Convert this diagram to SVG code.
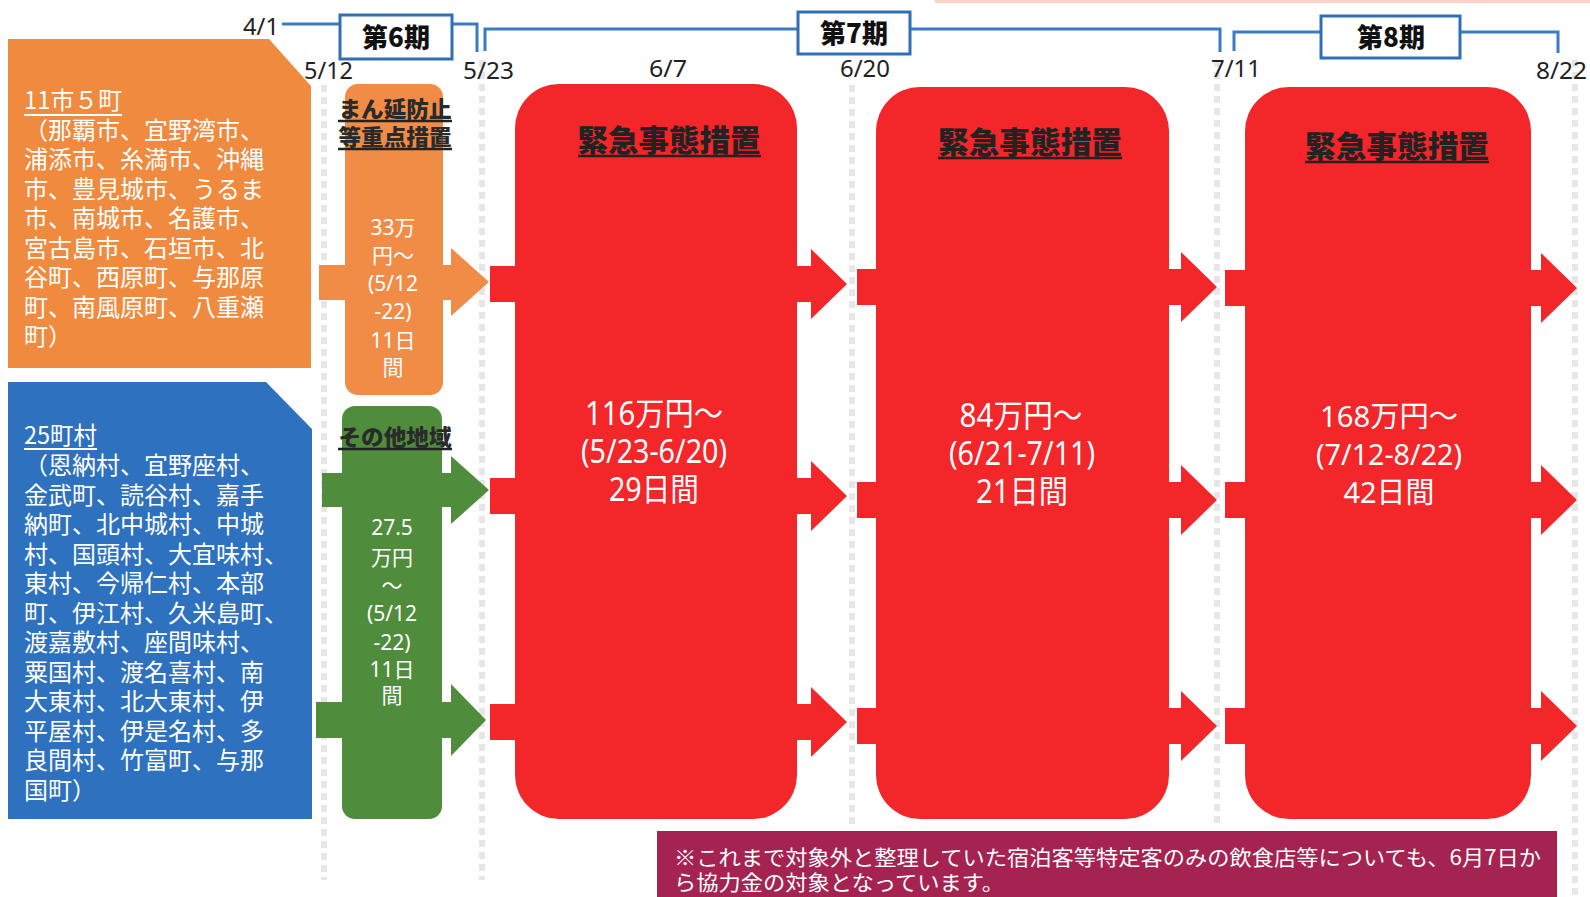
<svg xmlns="http://www.w3.org/2000/svg" width="1590" height="897" viewBox="0 0 1590 897">
<defs>
<style>
.jp{font-family:"Noto Sans CJK JP","Noto Sans",sans-serif}
.num{font-family:"Noto Sans","Noto Sans CJK JP",sans-serif}
.date{font-family:"Noto Sans","Noto Sans CJK JP",sans-serif;font-size:24px;fill:#222}
.ki{font-family:"Noto Sans CJK JP",sans-serif;font-size:26px;font-weight:900;fill:#111;text-anchor:middle}
.kibox{fill:#fff;stroke:#2f6fb5;stroke-width:3}
.tl{fill:none;stroke:#3a7cc4;stroke-width:3}
.wt{fill:#fff}
.left{font-family:"Noto Sans CJK JP",sans-serif;font-size:24px;fill:#fff}
.mtitle{font-family:"Noto Sans CJK JP",sans-serif;font-size:22px;font-weight:900;fill:#2a2a2a;text-anchor:middle}
.rtitle{font-family:"Noto Sans CJK JP",sans-serif;font-size:30px;font-weight:900;fill:#222;text-anchor:middle}
.ul{stroke:#222;stroke-width:2.5}
.wul{stroke:#fff;stroke-width:1.8}
.mid{font-family:"Noto Sans","Noto Sans CJK JP",sans-serif;font-size:21px;fill:#fff;text-anchor:middle}
.big{font-family:"Noto Sans","Noto Sans CJK JP",sans-serif;font-size:32px;fill:#fff;text-anchor:middle}
.big3{font-family:"Noto Sans","Noto Sans CJK JP",sans-serif;font-size:29px;fill:#fff;text-anchor:middle}
.red{fill:#f3262a}
.ghost{stroke:#e6e6e6;stroke-width:6;stroke-dasharray:7 5}
</style>
</defs>
<rect x="0" y="0" width="1590" height="897" fill="#fff"/>
<rect x="935" y="0" width="655" height="3" fill="#f9d3c8"/>

<g id="ghost-columns">
<line class="ghost" x1="324" y1="85" x2="324" y2="880"/>
<line class="ghost" x1="482" y1="60" x2="482" y2="880"/>
<line class="ghost" x1="852" y1="85" x2="852" y2="825"/>
<line class="ghost" x1="1217" y1="60" x2="1217" y2="825"/>
<line class="ghost" x1="1575" y1="60" x2="1575" y2="897"/>
</g>

<g id="timeline">
<path class="tl" d="M282,24 H477 V52"/>
<path class="tl" d="M485,51 V29 H1220 V52"/>
<path class="tl" d="M1234,51 V32 H1558 V53"/>
<text class="date" x="243" y="35" textLength="36" lengthAdjust="spacingAndGlyphs">4/1</text>
<text class="date" x="304" y="79" textLength="49" lengthAdjust="spacingAndGlyphs">5/12</text>
<text class="date" x="463" y="79" textLength="51" lengthAdjust="spacingAndGlyphs">5/23</text>
<text class="date" x="649" y="77" textLength="38" lengthAdjust="spacingAndGlyphs">6/7</text>
<text class="date" x="840" y="77" textLength="50" lengthAdjust="spacingAndGlyphs">6/20</text>
<text class="date" x="1211" y="77" textLength="50" lengthAdjust="spacingAndGlyphs">7/11</text>
<text class="date" x="1536" y="79" textLength="51" lengthAdjust="spacingAndGlyphs">8/22</text>
</g>

<g id="period6">
<rect class="kibox" x="340" y="15" width="112" height="44"/>
<text class="ki" x="396" y="47">第6期</text>
</g>
<g id="period7">
<rect class="kibox" x="798" y="12" width="112" height="42"/>
<text class="ki" x="854" y="43">第7期</text>
</g>
<g id="period8">
<rect class="kibox" x="1321" y="16" width="139" height="42"/>
<text class="ki" x="1391" y="47">第8期</text>
</g>

<g id="connectors">
<polygon fill="#f08c45" points="319,265 451,265 451,248 489,282 451,316 451,300 319,300"/>
<polygon fill="#4f8c3c" points="322,473 451,473 451,456 489,490 451,524 451,507 322,507"/>
<polygon fill="#4f8c3c" points="316,702 451,702 451,684 486,720 451,756 451,738 316,738"/>
<polygon class="red" points="490,266 811,266 811,249 847,284 811,319 811,302 490,302"/>
<polygon class="red" points="490,478 811,478 811,461 847,496 811,531 811,514 490,514"/>
<polygon class="red" points="490,704 811,704 811,687 847,722 811,757 811,740 490,740"/>
<polygon class="red" points="857,269 1181,269 1181,252 1217,287 1181,322 1181,305 857,305"/>
<polygon class="red" points="857,482 1181,482 1181,465 1217,500 1181,535 1181,518 857,518"/>
<polygon class="red" points="857,708 1181,708 1181,691 1217,726 1181,761 1181,744 857,744"/>
<polygon class="red" points="1225,270 1541,270 1541,253 1577,288 1541,323 1541,306 1225,306"/>
<polygon class="red" points="1225,482 1541,482 1541,465 1577,500 1541,535 1541,518 1225,518"/>
<polygon class="red" points="1225,708 1541,708 1541,691 1577,726 1541,761 1541,744 1225,744"/>
</g>

<g id="cities">
<path d="M8,39 L269,39 L311,86 L311,368 L8,368 Z" fill="#ef8a3e"/>
<text class="left" x="24" y="109" textLength="98" lengthAdjust="spacingAndGlyphs">11市５町</text>
<line class="wul" x1="24" y1="115" x2="122" y2="115"/>
<text class="left" x="24" y="138.5">（那覇市、宜野湾市、</text>
<text class="left" x="24" y="168">浦添市、糸満市、沖縄</text>
<text class="left" x="24" y="197.5">市、豊見城市、うるま</text>
<text class="left" x="24" y="227">市、南城市、名護市、</text>
<text class="left" x="24" y="256.5">宮古島市、石垣市、北</text>
<text class="left" x="24" y="286">谷町、西原町、与那原</text>
<text class="left" x="24" y="315.5">町、南風原町、八重瀬</text>
<text class="left" x="24" y="345">町）</text>
</g>

<g id="towns">
<path d="M8,382 L266,382 L312,429 L312,819 L8,819 Z" fill="#2e71be"/>
<text class="left" x="24" y="444" textLength="73" lengthAdjust="spacingAndGlyphs">25町村</text>
<line class="wul" x1="24" y1="449" x2="97" y2="449"/>
<text class="left" x="24" y="474">（恩納村、宜野座村、</text>
<text class="left" x="24" y="503.5">金武町、読谷村、嘉手</text>
<text class="left" x="24" y="533">納町、北中城村、中城</text>
<text class="left" x="24" y="562.5">村、国頭村、大宜味村、</text>
<text class="left" x="24" y="592">東村、今帰仁村、本部</text>
<text class="left" x="24" y="621.5">町、伊江村、久米島町、</text>
<text class="left" x="24" y="651">渡嘉敷村、座間味村、</text>
<text class="left" x="24" y="680.5">粟国村、渡名喜村、南</text>
<text class="left" x="24" y="710">大東村、北大東村、伊</text>
<text class="left" x="24" y="739.5">平屋村、伊是名村、多</text>
<text class="left" x="24" y="769">良間村、竹富町、与那</text>
<text class="left" x="24" y="798.5">国町）</text>
</g>

<g id="priority-measures">
<rect x="345" y="84" width="98" height="311" rx="13" fill="#f08c45"/>
<text class="mtitle" x="395" y="117" textLength="113" lengthAdjust="spacingAndGlyphs">まん延防止</text>
<line class="ul" x1="338" y1="121" x2="452" y2="121"/>
<text class="mtitle" x="395" y="145" textLength="113" lengthAdjust="spacingAndGlyphs">等重点措置</text>
<line class="ul" x1="338" y1="149" x2="452" y2="149"/>
<text class="mid" x="393" y="235">33万</text>
<text class="mid" x="393" y="263">円～</text>
<text class="mid" x="393" y="291">(5/12</text>
<text class="mid" x="393" y="319">-22)</text>
<text class="mid" x="393" y="348">11日</text>
<text class="mid" x="393" y="375">間</text>
</g>

<g id="other-areas">
<rect x="342" y="406" width="100" height="413" rx="13" fill="#4f8c3c"/>
<text class="mtitle" x="395" y="445" textLength="113" lengthAdjust="spacingAndGlyphs">その他地域</text>
<line class="ul" x1="338" y1="449" x2="452" y2="449"/>
<text class="mid" x="392" y="535" font-size="20">27.5</text>
<text class="mid" x="392" y="565" font-size="20">万円</text>
<text class="mid" x="392" y="593" font-size="20">～</text>
<text class="mid" x="392" y="621" font-size="20">(5/12</text>
<text class="mid" x="392" y="650" font-size="20">-22)</text>
<text class="mid" x="392" y="677" font-size="20">11日</text>
<text class="mid" x="392" y="703" font-size="16">間</text>
</g>

<g id="emergency1">
<rect class="red" x="515" y="84" width="282" height="735" rx="44"/>
<text class="rtitle" x="669" y="151" textLength="183" lengthAdjust="spacingAndGlyphs">緊急事態措置</text>
<line class="ul" x1="578" y1="156" x2="761" y2="156"/>
<text class="big" x="654" y="425" textLength="138" lengthAdjust="spacingAndGlyphs">116万円～</text>
<text class="big" x="654" y="463" textLength="146" lengthAdjust="spacingAndGlyphs">(5/23-6/20)</text>
<text class="big" x="654" y="501" textLength="90" lengthAdjust="spacingAndGlyphs">29日間</text>
</g>

<g id="emergency2">
<rect class="red" x="876" y="87" width="293" height="732" rx="44"/>
<text class="rtitle" x="1030" y="153" textLength="184" lengthAdjust="spacingAndGlyphs">緊急事態措置</text>
<line class="ul" x1="938" y1="158" x2="1122" y2="158"/>
<text class="big" x="1021" y="427" textLength="123" lengthAdjust="spacingAndGlyphs">84万円～</text>
<text class="big" x="1022" y="465" textLength="146" lengthAdjust="spacingAndGlyphs">(6/21-7/11)</text>
<text class="big" x="1022" y="503" textLength="92" lengthAdjust="spacingAndGlyphs">21日間</text>
</g>

<g id="emergency3">
<rect class="red" x="1245" y="87" width="286" height="732" rx="44"/>
<text class="rtitle" x="1397" y="157" textLength="184" lengthAdjust="spacingAndGlyphs">緊急事態措置</text>
<line class="ul" x1="1305" y1="162" x2="1489" y2="162"/>
<text class="big3" x="1389" y="427" textLength="138" lengthAdjust="spacingAndGlyphs">168万円～</text>
<text class="big3" x="1389" y="465" textLength="146" lengthAdjust="spacingAndGlyphs">(7/12-8/22)</text>
<text class="big3" x="1389" y="503" textLength="91" lengthAdjust="spacingAndGlyphs">42日間</text>
</g>

<g id="note">
<rect x="657" y="831" width="900" height="66" fill="#a52350"/>
<text class="jp" x="674" y="865" font-size="21" fill="#fff" textLength="867" lengthAdjust="spacingAndGlyphs">※これまで対象外と整理していた宿泊客等特定客のみの飲食店等についても、6月7日か</text>
<text class="jp" x="674" y="890" font-size="21" fill="#fff" textLength="330" lengthAdjust="spacingAndGlyphs">ら協力金の対象となっています。</text>
</g>
</svg>
